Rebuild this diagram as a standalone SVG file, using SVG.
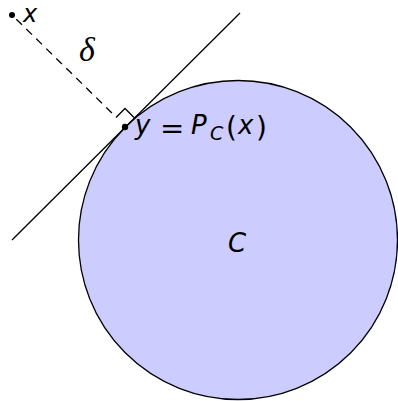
<svg xmlns="http://www.w3.org/2000/svg" width="398" height="401" viewBox="0 0 398 401">
<style>
.ln{stroke:#000;stroke-width:1.3;fill:none}
.t{font-family:"DejaVu Sans","Liberation Sans",sans-serif;font-size:26px;fill:#000}
.i{font-style:italic}
.sub{font-size:19px}
.par{font-size:28px}
.eq{font-size:29px}
.lx{font-size:24px}
</style>
<rect width="398" height="401" fill="#fff"/>
<g id="set-C">
<circle cx="238" cy="240" r="159.5" fill="#ccccff" stroke="#000" stroke-width="1.3"/>
<text class="t i" x="228" y="252">C</text>
</g>
<g id="connectors">
<line class="ln" x1="12" y1="15" x2="116" y2="117" stroke-dasharray="8,6" stroke-dashoffset="-6"/>
<line class="ln" x1="12" y1="240" x2="240" y2="13"/>
<path class="ln" d="M116,117.5 L125,108.5 L134,117.5"/>
</g>
<g id="point-x">
<circle cx="12" cy="15" r="3" fill="#000"/>
<text class="t i lx" x="23" y="22">x</text>
</g>
<g id="delta">
<text x="79" y="61" font-family="'Liberation Serif',serif" font-style="italic" font-size="34">δ</text>
</g>
<g id="point-y">
<circle cx="125" cy="127" r="3.2" fill="#000"/>
<text class="t" y="134"><tspan class="i" x="135">y</tspan><tspan class="eq" x="160" dy="4">=</tspan><tspan class="i" x="191" dy="-4">P</tspan><tspan class="i sub" x="210" dy="6">C</tspan><tspan class="par" x="226" dy="-3">(</tspan><tspan class="i" x="238" dy="-3">x</tspan><tspan class="par" x="256" dy="3">)</tspan></text>
</g>
</svg>
